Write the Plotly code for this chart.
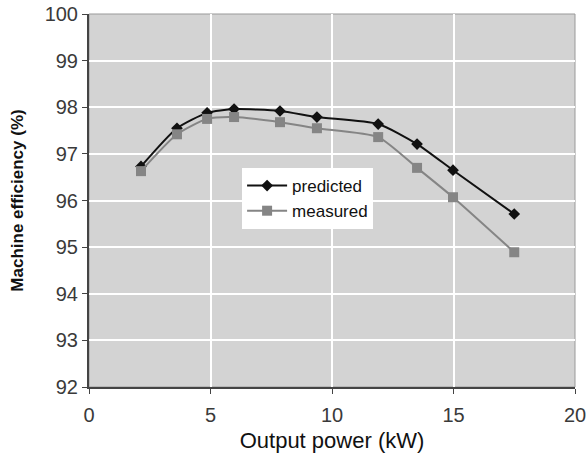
import plotly.graph_objects as go

power_pred = [2.14, 3.62, 4.86, 5.97, 7.86, 9.38, 11.9, 13.5, 14.98, 17.5]
eff_pred = [96.73, 97.55, 97.88, 97.96, 97.92, 97.79, 97.64, 97.21, 96.65, 95.71]
power_meas = [2.14, 3.62, 4.86, 5.97, 7.86, 9.38, 11.9, 13.5, 14.98, 17.5]
eff_meas = [96.63, 97.42, 97.75, 97.79, 97.68, 97.55, 97.36, 96.70, 96.07, 94.89]

fig = go.Figure()
fig.add_trace(go.Scatter(x=power_pred, y=eff_pred, name="predicted", mode="lines+markers",
                         line=dict(color="#111111", width=2, shape="spline", smoothing=0.6),
                         marker=dict(symbol="diamond", size=9, color="#111111")))
fig.add_trace(go.Scatter(x=power_meas, y=eff_meas, name="measured", mode="lines+markers",
                         line=dict(color="#858585", width=2, shape="spline", smoothing=0.6),
                         marker=dict(symbol="square", size=10, color="#858585")))

fig.update_layout(
    width=586, height=456,
    margin=dict(l=89, r=11, t=14, b=69),
    paper_bgcolor="white", plot_bgcolor="#d3d3d3",
    font=dict(family="Arial, Liberation Sans", color="#333333", size=19),
    showlegend=True,
    legend=dict(x=0.315, y=0.587, xanchor="left", yanchor="top", bgcolor="white",
                font=dict(size=17, color="#111111"), tracegroupgap=0, itemwidth=40),
    xaxis=dict(range=[0, 20], tickvals=[0, 5, 10, 15, 20], showgrid=True, gridcolor="white", gridwidth=1.5,
               zeroline=False, showline=True, linecolor="#444444", linewidth=2, mirror=False,
               ticks="outside", ticklen=5, tickcolor="#444444", automargin=False,
               ticklabelstandoff=4, ticklabeloverflow="allow",
               tickfont=dict(size=20, color="#3a3a3a"),
               title=dict(text="Output power (kW)", font=dict(size=22, color="#111111"), standoff=8)),
    yaxis=dict(range=[92, 100], dtick=1, showgrid=True, gridcolor="white", gridwidth=1.5,
               zeroline=False, showline=True, linecolor="#444444", linewidth=2, automargin=False,
               ticks="outside", ticklen=5, tickcolor="#444444", ticklabeloverflow="allow",
               tickfont=dict(size=20, color="#3a3a3a"),
               title=dict(text="<b>Machine efficiency (%)</b>", font=dict(size=17, color="#111111"), standoff=17)),
    shapes=[dict(type="rect", xref="paper", yref="paper", x0=0, y0=0, x1=1, y1=1,
                 line=dict(color="#999999", width=1), fillcolor="rgba(0,0,0,0)", layer="below")]
)

fig.write_html("out.html")
